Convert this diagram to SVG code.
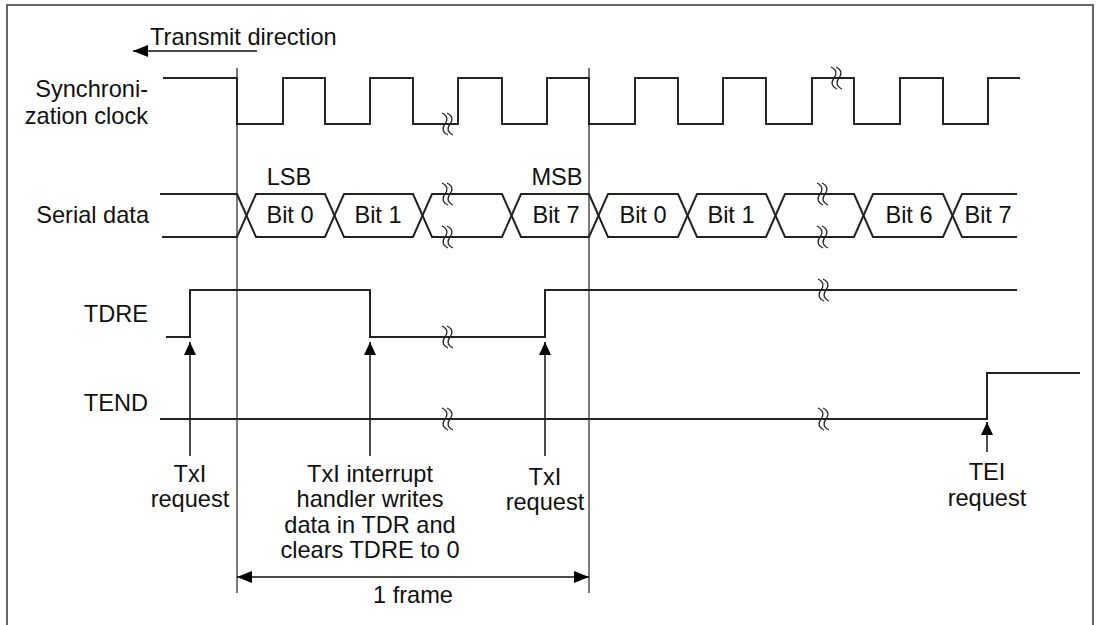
<svg xmlns="http://www.w3.org/2000/svg" xmlns:xlink="http://www.w3.org/1999/xlink" width="1099" height="625" viewBox="0 0 1099 625">
<style>
text{font-family:"Liberation Sans",Arial,sans-serif;font-size:23.6px;fill:#111}
.r{text-anchor:end}
.c{text-anchor:middle}
.w{fill:none;stroke:#222;stroke-width:2}
.g{fill:none;stroke:#222;stroke-width:1.2}
.a{fill:none;stroke:#111;stroke-width:1.5}
.brk path{fill:none;stroke:#222;stroke-width:1.3}
</style>
<defs>
<marker id="ah" viewBox="0 0 13 12" refX="13" refY="6" markerWidth="13" markerHeight="12" markerUnits="userSpaceOnUse" orient="auto-start-reverse"><path d="M0,0 L13,6 L0,12 z" fill="#000"/></marker>
<marker id="ah2" viewBox="0 0 15 12" refX="15" refY="6" markerWidth="15" markerHeight="12" markerUnits="userSpaceOnUse" orient="auto-start-reverse"><path d="M0,0 L15,6 L0,12 z" fill="#000"/></marker>
<g id="brk" class="brk"><path d="M-5,-11 C1,-8 1,-4 -2,0 C-5,4 -5,8 1,11"/><path d="M0,-11 C6,-8 6,-4 3,0 C0,4 0,8 6,11"/></g>
</defs>
<rect width="1099" height="625" fill="#fff"/>
<path d="M7,630 V5 H1093 V630" fill="none" stroke="#333" stroke-width="1.5"/>

<g id="transmit-direction">
<line class="a" x1="257" y1="51" x2="133" y2="51" marker-end="url(#ah2)"/>
<text x="150" y="45">Transmit direction</text>
</g>

<g id="frame-lines">
<line class="g" x1="237" y1="68" x2="237" y2="593"/>
<line class="g" x1="589" y1="68" x2="589" y2="593"/>
</g>

<g id="sync-clock">
<text class="r" x="148" y="97">Synchroni-</text>
<text class="r" x="148" y="124">zation clock</text>
<path class="w" d="M163,78 H237 V124 H283 V78 H325 V124 H370 V78 H413 V124 H458 V78 H502 V124 H547 V78 H589 V124 H635 V78 H678 V124 H723 V78 H766 V124 H812 V78 H854 V124 H900 V78 H943 V124 H988 V78 H1020"/>
<use xlink:href="#brk" x="447" y="124"/>
<use xlink:href="#brk" x="836" y="78"/>
</g>

<g id="serial-data">
<text class="r" x="149" y="223">Serial data</text>
<text class="c" x="289" y="185">LSB</text>
<text class="c" x="557" y="185">MSB</text>
<path class="w" d="M160,194 H237 L256,237 H325 L344,194 H413 L432,237 H502 L521,194 H589 L608,237 H678 L697,194 H766 L785,237 H854 L873,194 H943 L962,237 H1017"/>
<path class="w" d="M162,237 H237 L256,194 H325 L344,237 H413 L432,194 H502 L521,237 H589 L608,194 H678 L697,237 H766 L785,194 H854 L873,237 H943 L962,194 H1017"/>
<use xlink:href="#brk" x="447" y="194"/>
<use xlink:href="#brk" x="447" y="237"/>
<use xlink:href="#brk" x="822" y="194"/>
<use xlink:href="#brk" x="822" y="237"/>
<text class="c" x="290" y="223">Bit 0</text>
<text class="c" x="378" y="223">Bit 1</text>
<text class="c" x="556" y="223">Bit 7</text>
<text class="c" x="643" y="223">Bit 0</text>
<text class="c" x="731" y="223">Bit 1</text>
<text class="c" x="909" y="223">Bit 6</text>
<text class="c" x="988" y="223">Bit 7</text>
</g>

<g id="tdre">
<text class="r" x="148" y="322">TDRE</text>
<path class="w" d="M166,337 H190 V290 H370 V337 H545 V290 H1017"/>
<use xlink:href="#brk" x="447" y="337"/>
<use xlink:href="#brk" x="823" y="290"/>
</g>

<g id="tend">
<text class="r" x="148" y="411">TEND</text>
<path class="w" d="M160,419 H987 V373 H1080"/>
<use xlink:href="#brk" x="447" y="419"/>
<use xlink:href="#brk" x="823" y="419"/>
</g>

<g id="connectors">
<line class="a" x1="190" y1="456" x2="190" y2="342" marker-end="url(#ah)"/>
<line class="a" x1="370" y1="456" x2="370" y2="342" marker-end="url(#ah)"/>
<line class="a" x1="545" y1="456" x2="545" y2="342" marker-end="url(#ah)"/>
<line class="a" x1="987" y1="452" x2="987" y2="422" marker-end="url(#ah)"/>
<line class="a" x1="237" y1="577" x2="589" y2="577" marker-start="url(#ah2)" marker-end="url(#ah2)"/>
</g>

<g id="label-txi-1">
<text class="c" x="190" y="482">TxI</text>
<text class="c" x="190" y="507">request</text>
</g>
<g id="label-handler">
<text class="c" x="370" y="482">TxI interrupt</text>
<text class="c" x="370" y="507">handler writes</text>
<text class="c" x="370" y="533">data in TDR and</text>
<text class="c" x="370" y="558">clears TDRE to 0</text>
</g>
<g id="label-txi-2">
<text class="c" x="545" y="485">TxI</text>
<text class="c" x="545" y="510">request</text>
</g>
<g id="label-tei">
<text class="c" x="987" y="480">TEI</text>
<text class="c" x="987" y="506">request</text>
</g>
<g id="label-frame">
<text class="c" x="413" y="603">1 frame</text>
</g>
</svg>
